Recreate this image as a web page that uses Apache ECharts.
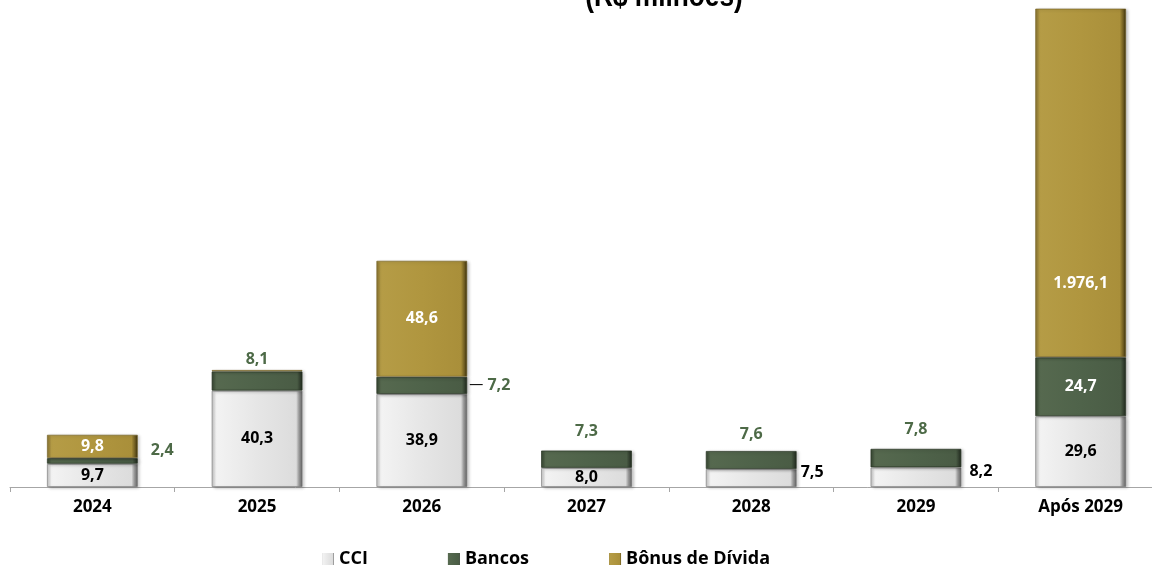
<!DOCTYPE html>
<html>
<head>
<meta charset="utf-8">
<script src="https://cdn.jsdelivr.net/npm/echarts@6/dist/echarts.min.js"></script>
<style>
  html, body { margin: 0; padding: 0; background: #fff; }
  #chart { width: 1152px; height: 572px; }
</style>
</head>
<body>
<div id="chart"></div>
<script>
// Amortization schedule (R$ millions), stacked by source
const categories = ['2024', '2025', '2026', '2027', '2028', '2029', 'Após 2029'];
const cci    = [9.7, 40.3, 38.9, 8.0, 7.5, 8.2, 29.6];
const bancos = [2.4, 8.1, 7.2, 7.3, 7.6, 7.8, 24.7];
const bonus  = [9.8, 0.6, 48.6, null, null, null, 1976.1];
const seriesNames = ['CCI', 'Bancos', 'Bônus de Dívida'];
const titleText = '(R$ milhões)';

// pt-BR number format: 1.976,1
function fmt(v) {
  const parts = v.toFixed(1).split('.');
  return parts[0].replace(/\B(?=(\d{3})+(?!\d))/g, '.') + ',' + parts[1];
}

const FONT = '"Open Sans", sans-serif';
const GREEN_TXT = '#4d6a47';

// per-bar label placement
const cciLabels = [
  { position: 'inside' },
  { position: 'inside' },
  { position: 'inside' },
  { position: 'inside' },
  { position: 'right', distance: 4, offset: [0, -6] },
  { position: 'right', distance: 8, offset: [0, -6] },
  { position: 'inside' }
];
const bancosLabels = [
  { position: 'right', distance: 13, offset: [0, -11] },
  { position: 'top', distance: 4 },
  { position: 'right', distance: 2, formatter: p => '{l|—} ' + fmt(p.value),
    rich: { l: { color: '#000', fontWeight: 'normal', fontSize: 14, fontFamily: FONT } } },
  { position: 'top', distance: 11 },
  { position: 'top', distance: 8 },
  { position: 'top', distance: 11 },
  { position: 'inside', color: '#fff' }
];
const bonusLabels = [
  { position: 'inside' },
  { show: false },
  { position: 'inside' },
  { show: false },
  { show: false },
  { show: false },
  { position: 'insideBottom', distance: 66 }
];

function grad(stops) {
  return new echarts.graphic.LinearGradient(0, 0, 1, 0,
    stops.map(s => ({ offset: s[0], color: s[1] })));
}

const styles = [
  {
    color: grad([[0, '#bdbdbd'], [0.05, '#f3f3f3'], [0.5, '#e6e6e6'], [0.93, '#dcdcdc'], [0.96, '#9a9a9a'], [1, '#5e5e5e']]),
    borderColor: 'rgba(110,110,110,0.55)', labelColor: '#000'
  },
  {
    color: grad([[0, '#34432f'], [0.05, '#56694f'], [0.5, '#4f634a'], [0.94, '#4a5c45'], [1, '#1d251b']]),
    borderColor: 'rgba(40,52,36,0.7)', labelColor: GREEN_TXT
  },
  {
    color: grad([[0, '#857130'], [0.05, '#b59c46'], [0.5, '#b0963f'], [0.93, '#a98f3a'], [0.97, '#6c5a20'], [1, '#33290b']]),
    borderColor: 'rgba(110,92,30,0.6)', labelColor: '#fff'
  }
];

function build(values, labels) {
  return values.map((v, i) => ({ value: v, label: labels[i] }));
}

const dataSets = [build(cci, cciLabels), build(bancos, bancosLabels), build(bonus, bonusLabels)];

const chart = echarts.init(document.getElementById('chart'), null, { renderer: 'canvas' });

chart.setOption({
  animation: false,
  backgroundColor: '#fff',
  graphic: [{
    type: 'text',
    x: 664,
    y: -19,
    scaleX: 0.82,
    style: {
      text: titleText,
      x: 0,
      y: 0,
      align: 'center',
      verticalAlign: 'top',
      font: 'bold 32px "Liberation Sans", Arial, sans-serif',
      fill: '#000'
    }
  }],
  legend: {
    data: seriesNames,
    left: 317,
    top: 545,
    itemWidth: 12,
    itemHeight: 12,
    itemGap: 80,
    icon: 'rect',
    itemStyle: { borderWidth: 0, shadowBlur: 0, shadowOffsetX: 0, shadowOffsetY: 0 },
    textStyle: { fontFamily: FONT, fontWeight: 'bold', fontSize: 18, color: '#000' }
  },
  grid: { left: 10, top: 9, width: 1153, height: 478, containLabel: false, outerBoundsMode: 'none' },
  xAxis: {
    type: 'category',
    data: categories,
    axisLine: { lineStyle: { color: '#a6a6a6', width: 1 } },
    axisTick: { show: true, length: 5, lineStyle: { color: '#a6a6a6' } },
    axisLabel: { fontFamily: FONT, fontWeight: 'bold', fontSize: 17, color: '#000', margin: 12 }
  },
  yAxis: { type: 'value', min: 0, max: 200, show: false, splitLine: { show: false } },
  series: seriesNames.map((name, k) => ({
    name: name,
    type: 'bar',
    stack: 'total',
    barWidth: 91,
    clip: true,
    data: dataSets[k],
    itemStyle: {
      color: styles[k].color,
      borderColor: styles[k].borderColor,
      borderWidth: 1,
      shadowColor: 'rgba(0,0,0,0.25)',
      shadowBlur: 3,
      shadowOffsetX: 2,
      shadowOffsetY: 1
    },
    label: {
      show: true,
      fontFamily: FONT,
      fontWeight: 'bold',
      fontSize: 16,
      color: styles[k].labelColor,
      formatter: p => fmt(p.value)
    }
  }))
});
</script>
</body>
</html>
